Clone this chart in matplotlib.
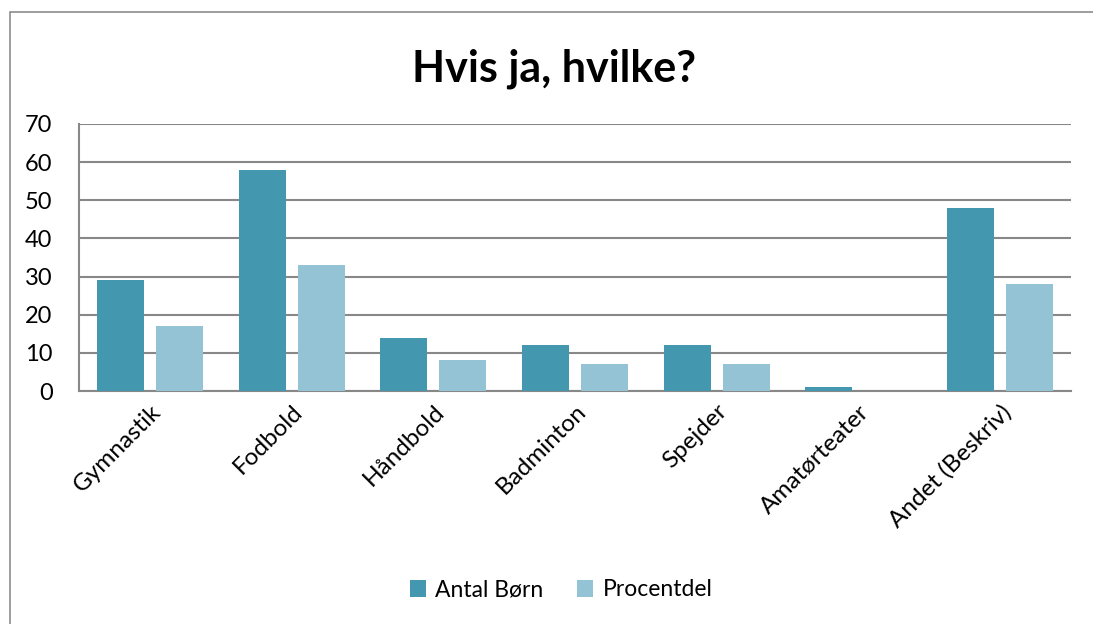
import numpy as np
import matplotlib.pyplot as plt
from matplotlib.patches import Rectangle

categories = ['Gymnastik', 'Fodbold', 'Håndbold', 'Badminton', 'Spejder',
              'Amatørteater', 'Andet (Beskriv)']
antal_born = [29, 58, 14, 12, 12, 1, 48]
procentdel = [17, 33, 8, 7, 7, 0, 28]
series_names = ['Antal Børn', 'Procentdel']
yticks = [0, 10, 20, 30, 40, 50, 60, 70]

dark = '#4398B0'
light = '#93C3D5'
grid_col = '#888888'

plt.rcParams['font.family'] = ['Lato', 'DejaVu Sans']

fig = plt.figure(figsize=(10.93, 6.24), dpi=100)
# outer chart frame (cropped on right and bottom)
fig.patches.append(Rectangle((9.5 / 1093, -0.1), 1.2, 1 - 11.5 / 624 + 0.1,
                             transform=fig.transFigure, fill=False,
                             edgecolor='#8c8c8c', linewidth=1.2))

ax = fig.add_axes([79 / 1093, 1 - 391 / 624, (1071 - 79) / 1093, (391 - 124) / 624])
x = np.arange(len(categories))
w = 0.332
off = 0.208
ax.bar(x - off, antal_born, w, color=dark, label=series_names[0], zorder=3)
ax.bar(x + off, procentdel, w, color=light, label=series_names[1], zorder=3)

ax.set_xlim(-0.5, len(categories) - 0.5)
ax.set_ylim(0, 70)
ax.set_yticks(yticks)
ax.yaxis.grid(True, color=grid_col, linewidth=1.5, zorder=0)
ax.set_axisbelow(True)
for s in ['top', 'right']:
    ax.spines[s].set_visible(False)
for s in ['left', 'bottom']:
    ax.spines[s].set_color(grid_col)
    ax.spines[s].set_linewidth(1.5)
ax.tick_params(axis='both', length=0, labelsize=17.5, colors='black', pad=7)
ax.tick_params(axis='y', labelsize=17, pad=19)
ax.set_xticks(x)
ax.set_xticklabels(categories, rotation=45, ha='right', rotation_mode='anchor',
                   fontsize=17.5)

fig.text(554 / 1093, 1 - 69 / 624, 'Hvis ja, hvilke?', ha='center', va='center',
         fontsize=31, fontweight='bold')

fig.legend(loc='center', bbox_to_anchor=(561 / 1093, 1 - 590 / 624), ncol=2,
           frameon=False, fontsize=16.5, handlelength=0.7, handleheight=0.7,
           handletextpad=0.4, columnspacing=1.5)

fig.savefig('out.png', dpi=100)
